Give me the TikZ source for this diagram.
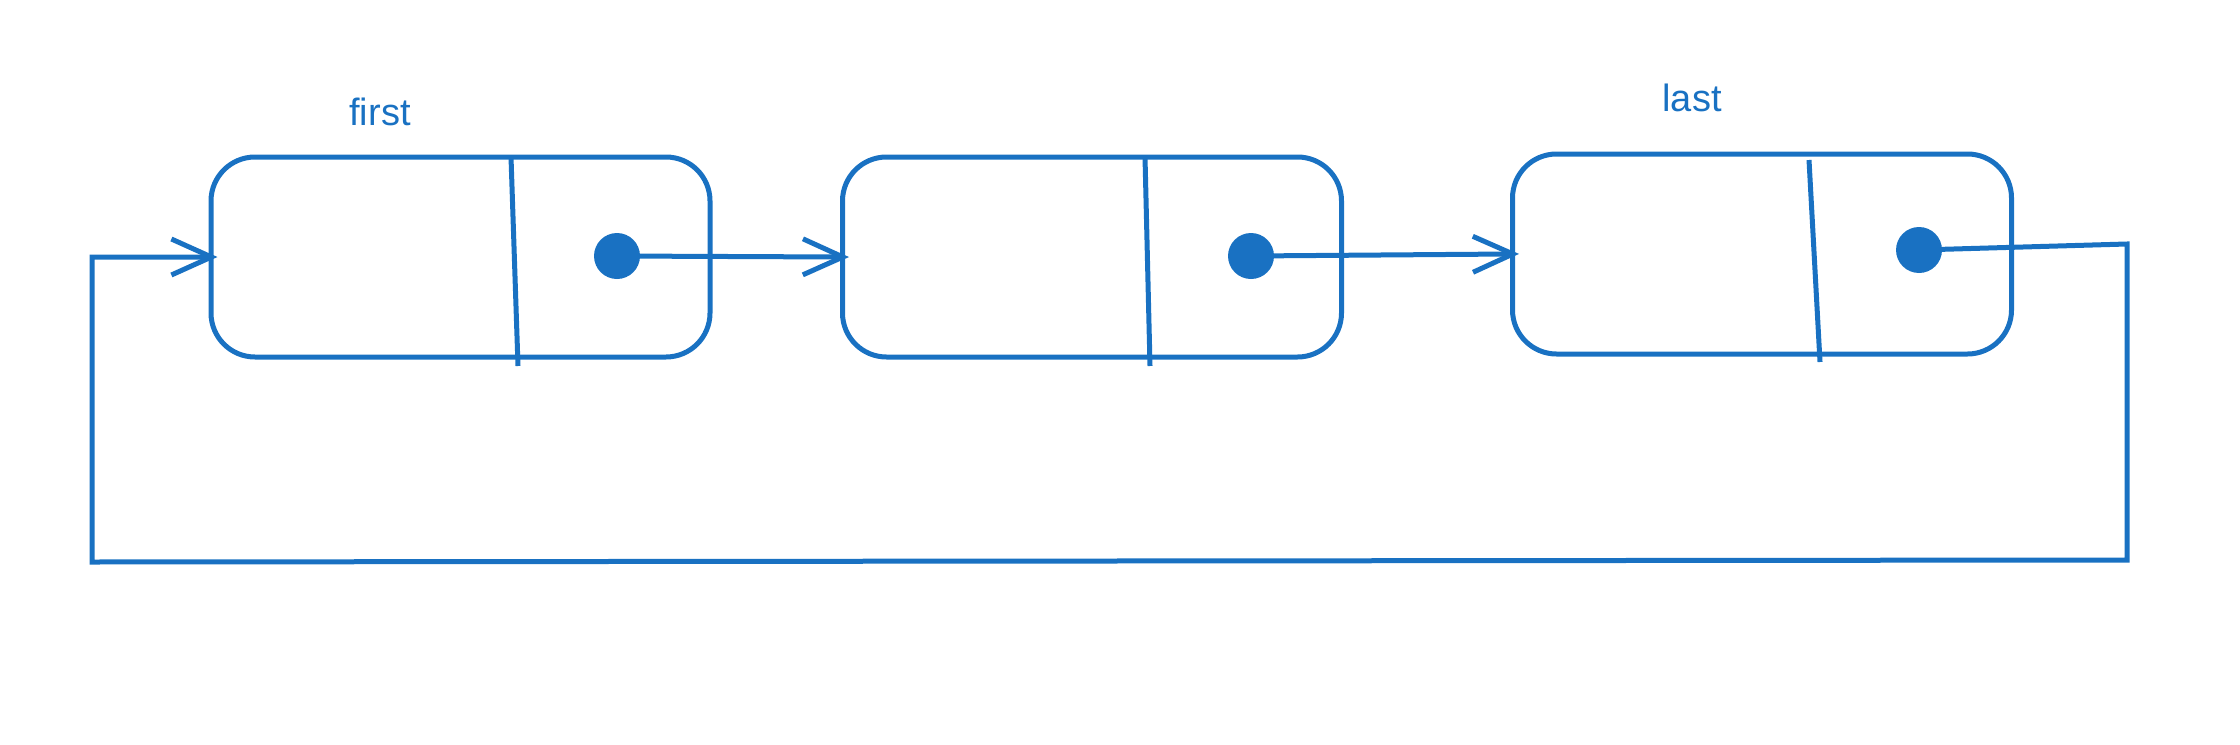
\documentclass[tikz,border=0pt]{standalone}
\usepackage{fontspec}
\setmainfont{Liberation Sans}
\usetikzlibrary{arrows.meta}
\definecolor{exblue}{HTML}{1971C2}
\tikzset{
  listbox/.style={draw=exblue, line width=5pt, rounded corners=44pt, minimum width=499pt, minimum height=200pt, inner sep=0pt},
  divline/.style={draw=exblue, line width=5pt},
  ptrdot/.style={circle, fill=exblue, minimum size=46pt, inner sep=0pt},
  conn/.style={draw=exblue, line width=5pt},
  arr/.style={conn, -{Straight Barb[length=40pt, width=36pt]}, shorten >=-9pt},
  lbl/.style={text=exblue, font=\fontsize{38}{40}\selectfont, inner sep=0pt}
}
\begin{document}
\begin{tikzpicture}[x=1pt, y=-1pt]
\useasboundingbox (0,0) rectangle (2240,744);
% boxes
\node[listbox] (n1) at (460.5,257) {};
\node[listbox] (n2) at (1092,257) {};
\node[listbox] (n3) at (1762,254) {};
% dividers
\coordinate (t1) at (511,157); \coordinate (b1) at (518,366);
\coordinate (t2) at (1145,157); \coordinate (b2) at (1150,366);
\coordinate (t3) at (1809,160); \coordinate (b3) at (1820,362);
\draw[divline] (t1) -- (b1);
\draw[divline] (t2) -- (b2);
\draw[divline] (t3) -- (b3);
% dots
\node[ptrdot] (d1) at (617,256) {};
\node[ptrdot] (d2) at (1251,256) {};
\node[ptrdot] (d3) at (1919,250) {};
% labels
\node[lbl] (first) at (380,112) {first};
\node[lbl] (last) at (1692,98) {last};
% connectors
\draw[arr] (d1.center) -- (n2.west);
\draw[arr] (d2.center) -- (n3.west);
\coordinate (c1) at (2127,244);
\coordinate (c2) at (2127,560);
\coordinate (c3) at (92,562);
\coordinate (c4) at (92,257);
\draw[arr] (d3.center) -- (c1) -- (c2) -- (c3) -- (c4) -- (n1.west);
\end{tikzpicture}
\end{document}
